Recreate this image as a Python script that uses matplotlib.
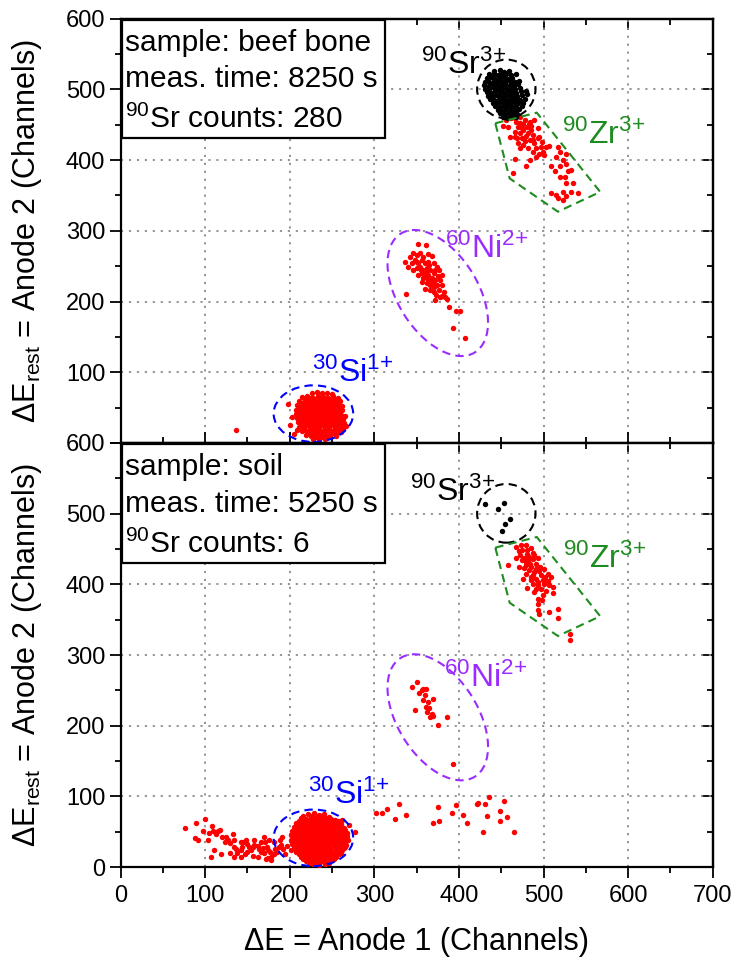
import numpy as np
import matplotlib
matplotlib.use("Agg")
import matplotlib.pyplot as plt
from matplotlib.patches import Ellipse, Polygon, Rectangle
from matplotlib.transforms import Affine2D
from matplotlib.ticker import MultipleLocator

plt.rcParams.update({
    "font.family": ["Liberation Sans", "DejaVu Sans"],
    "mathtext.fontset": "custom",
    "mathtext.rm": "Liberation Sans",
    "mathtext.it": "Liberation Sans:italic",
    "mathtext.bf": "Liberation Sans:bold",
})

# ---------------- data (channels) ----------------
# top panel: beef bone
sr_top = [(442,526),(448,527),(453,525),(459,526),
          (436,521),(441,522),(446,520),(451,521),(456,522),(461,520),(468,522),
          (433,516),(438,517),(443,515),(448,516),(453,517),(458,515),(463,516),
          (431,511),(436,510),(441,512),(446,511),(451,510),(456,512),(461,511),(466,510),(471,512),
          (430,506),(435,505),(440,507),(445,506),(450,505),(455,507),(460,506),(465,505),(470,507),
          (431,501),(436,500),(441,502),(446,501),(451,500),(456,502),(461,501),(466,500),(472,502),(479,497),
          (433,496),(438,495),(443,497),(448,496),(453,495),(458,497),(463,496),(468,495),(473,497),(480,494),
          (434,491),(439,490),(444,492),(449,491),(454,490),(459,492),(464,491),(469,490),(475,492),
          (437,486),(442,485),(447,487),(452,486),(457,485),(462,487),(467,486),(472,485),(478,487),
          (440,481),(445,480),(450,482),(455,481),(460,480),(465,482),(470,481),(476,480),
          (443,476),(448,475),(453,477),(458,476),(463,475),(468,477),(474,476),
          (446,471),(451,470),(456,472),(461,471),(466,470),(471,472),
          (449,466),(454,465),(459,467),(464,466),(469,465),
          (452,461),(457,460),(462,462),(467,461)]

zr_top = [(456,457),(462,459),(466,460),(472,461),(478,457),(484,454),(489,457),(452,448),
          (458,447),(460,433),(466,440),(470,447),(472,438),(474,431),(476,443),(480,447),
          (482,438),(484,428),(485,443),(487,435),(489,424),(491,417),(493,445),(495,433),
          (497,419),(499,412),(503,419),(506,420),(470,424),(476,421),(482,417),(487,412),
          (491,405),(484,400),(479,392),(466,402),(464,382),(517,419),(520,412),(515,405),
          (509,391),(513,384),(519,391),(523,400),(527,409),(526,395),(529,384),(533,386),
          (519,376),(525,376),(527,367),(535,367),(509,353),(515,351),(523,355),(527,349),
          (533,355),(541,354),(517,346),(523,344),(472,452),(476,451),(468,454),(485,448),
          (474,445),(479,434),(483,451),(488,429),(478,427),(472,417),(495,409),(498,426),
          (501,407),(466,433),(469,431),(493,431)]

ni_top = [(352,282),(361,280),(336,256),(342,263),(346,268),(350,266),(354,269),(358,263),
          (364,267),(368,264),(340,249),(344,254),(348,259),(352,255),(356,259),(360,254),
          (364,256),(370,254),(374,249),(346,244),(350,247),(354,249),(358,244),(362,247),
          (366,244),(370,240),(376,244),(380,237),(352,237),(356,240),(360,235),(364,237),
          (368,233),(372,230),(378,230),(356,228),(362,226),(366,228),(370,221),(374,223),
          (380,223),(360,218),(366,216),(370,214),(376,216),(382,214),(384,207),(378,206),
          (372,202),(380,208),(386,204),(337,210),(388,192),(397,187),(401,187),(393,163),
          (407,149),(350,256),(355,244),(361,242),(365,251),(372,244),(357,233),(363,230),
          (375,236),(369,226),(366,223),(373,209),(362,237)]

si_top = [(226,71),(232,72),(238,70),(244,71),(250,69),
          (215,65),(221,66),(227,64),(233,66),(239,65),(245,64),(251,66),(257,63),
          (211,59),(217,58),(223,60),(229,59),(235,58),(241,60),(247,59),(253,58),(259,60),
          (209,53),(215,52),(221,54),(227,53),(233,52),(239,54),(245,53),(251,52),(257,54),(262,52),
          (208,47),(214,46),(220,48),(226,47),(232,46),(238,48),(244,47),(250,46),(256,48),(262,46),
          (207,41),(213,40),(219,42),(225,41),(231,40),(237,42),(243,41),(249,40),(255,42),(261,40),(265,38),
          (209,35),(215,34),(221,36),(227,35),(233,34),(239,36),(245,35),(251,34),(257,36),(263,34),
          (210,29),(216,28),(222,30),(228,29),(234,28),(240,30),(246,29),(252,28),(258,30),(264,28),(266,24),
          (211,23),(217,22),(223,24),(229,23),(235,22),(241,24),(247,23),(253,22),(259,24),(263,20),
          (214,17),(220,16),(226,18),(232,17),(238,16),(244,18),(250,17),(256,16),(261,15),
          (219,11),(225,10),(231,12),(237,11),(243,10),(249,12),(255,10),
          (228,6),(235,5),(242,6),
          (137,19),(198,55),(200,25),(209,18),(203,37),(205,12)]

si_top_core = [(218,62),(224,63),(230,61),(236,62),(242,63),(248,61),(254,62),
               (214,56),(220,55),(226,57),(232,56),(238,55),(244,57),(250,56),(256,55),
               (212,50),(218,49),(224,51),(230,50),(236,49),(242,51),(248,50),(254,49),(259,50),
               (211,44),(217,43),(223,45),(229,44),(235,43),(241,45),(247,44),(253,43),(259,44),
               (212,38),(218,37),(224,39),(230,38),(236,37),(242,39),(248,38),(254,37),(260,38),
               (212,32),(218,31),(224,33),(230,32),(236,31),(242,33),(248,32),(254,31),(260,32),
               (213,26),(219,25),(225,27),(231,26),(237,25),(243,27),(249,26),(255,25),(261,26),
               (217,20),(223,19),(229,21),(235,20),(241,19),(247,21),(253,20),(258,19),
               (222,14),(228,13),(234,15),(240,14),(246,13),(252,14),
               (231,8),(238,8),(245,9)]

# bottom panel: soil
sr_bot = [(431,514),(453,515),(446,506),(460,492),(454,486),(451,475)]

zr_bot = [(468,453),(473,455),(479,456),(485,451),(471,447),(475,449),(481,448),(487,445),
          (468,437),(472,441),(477,438),(483,439),(488,436),(493,438),(458,428),(475,434),
          (479,431),(484,429),(491,429),(496,425),(471,425),(477,423),(483,420),(489,417),
          (495,419),(501,422),(505,415),(509,410),(485,411),(491,408),(499,406),(476,407),
          (487,401),(494,399),(501,400),(507,399),(511,396),(481,395),(491,393),(497,394),
          (503,391),(511,388),(489,389),(499,385),(493,379),(498,378),(494,372),(493,364),
          (495,358),(507,361),(517,365),(517,352),(531,330),(531,322),(483,436),(480,443),
          (489,442),(479,427),(485,424),(491,422),(488,413),(497,413),(502,410),(493,403),
          (505,405),(479,415),(485,406)]

ni_bot = [(350,262),(345,255),(353,246),(358,252),(361,252),(358,237),(364,234),(369,238),
          (348,223),(361,227),(365,225),(362,220),(368,217),(366,213),(369,214),(386,213),
          (375,201),(393,146),(356,251),(360,244)]

si_bot = [(222,75),(229,76),(235,74),(241,75),
          (213,69),(219,68),(225,70),(231,69),(237,68),(243,70),(249,68),(254,67),
          (208,63),(214,62),(220,64),(226,63),(232,62),(238,64),(244,63),(250,62),(256,63),(261,61),
          (205,57),(211,56),(217,58),(223,57),(229,56),(235,58),(241,57),(247,56),(253,58),(259,56),(264,55),
          (203,51),(209,50),(215,52),(221,51),(227,50),(233,52),(239,51),(245,50),(251,52),(257,50),(263,51),(268,49),
          (202,45),(208,44),(214,46),(220,45),(226,44),(232,46),(238,45),(244,44),(250,46),(256,44),(262,45),(268,44),
          (202,39),(208,38),(214,40),(220,39),(226,38),(232,40),(238,39),(244,38),(250,40),(256,38),(262,39),(269,38),
          (203,33),(209,32),(215,34),(221,33),(227,32),(233,34),(239,33),(245,32),(251,34),(257,32),(263,33),(267,31),
          (205,27),(211,26),(217,28),(223,27),(229,26),(235,28),(241,27),(247,26),(253,28),(259,26),(264,27),
          (208,21),(214,20),(220,22),(226,21),(232,20),(238,22),(244,21),(250,20),(256,22),(261,20),
          (213,15),(219,14),(225,16),(231,15),(237,14),(243,16),(249,15),(255,14),
          (219,9),(225,8),(231,10),(237,9),(243,8),(249,10),
          (228,4),(235,3),(242,4),
          (277,50),(270,60),(262,67)]

si_bot_core = [(216,72),(226,73),(232,71),(238,72),(246,71),
               (211,66),(217,65),(223,67),(229,66),(235,65),(241,67),(247,66),(252,65),(257,66),
               (207,60),(213,59),(219,61),(225,60),(231,59),(237,61),(243,60),(249,59),(255,60),(260,59),
               (206,54),(212,53),(218,55),(224,54),(230,53),(236,55),(242,54),(248,53),(254,55),(260,54),(265,53),
               (205,48),(211,47),(217,49),(223,48),(229,47),(235,49),(241,48),(247,47),(253,49),(259,48),(265,47),
               (205,42),(211,41),(217,43),(223,42),(229,41),(235,43),(241,42),(247,41),(253,43),(259,42),(265,41),
               (205,36),(211,35),(217,37),(223,36),(229,35),(235,37),(241,36),(247,35),(253,37),(259,36),(265,35),
               (206,30),(212,29),(218,31),(224,30),(230,29),(236,31),(242,30),(248,29),(254,31),(260,30),(265,29),
               (208,24),(214,23),(220,25),(226,24),(232,23),(238,25),(244,24),(250,23),(256,25),(262,24),
               (211,18),(217,17),(223,19),(229,18),(235,17),(241,19),(247,18),(253,17),(258,18),
               (216,12),(222,11),(228,13),(234,12),(240,11),(246,13),(252,12),
               (223,6),(232,6),(240,7),(246,6)]

tail_bot = [(76,55),(89,63),(88,41),(91,38),(97,51),(100,68),(103,39),(105,48),(109,51),
            (108,58),(113,47),(115,51),(118,53),(120,43),(123,36),(125,43),(127,39),(129,34),
            (133,47),(134,28),(136,26),(138,20),(142,24),(144,28),(145,35),(148,39),(150,33),
            (152,28),(154,25),(156,28),(158,32),(162,30),(164,26),(166,22),(168,27),(171,35),
            (173,29),(174,24),(177,21),(178,15),(181,19),(183,26),(185,22),(187,28),(190,32),
            (192,26),(195,19),(107,15),(110,24),(119,19),(129,20),(134,15),(142,15),(150,21),
            (156,16),(162,14),(170,20),(172,11),(178,10),(134,39),(142,36),(158,39),(166,35),
            (176,39),(181,36),(189,38),(197,30),(201,25),(170,43),(191,43),(174,13),(147,18)]

scatter_bot = [(302,76),(309,76),(315,82),(325,68),(329,90),(338,74),(369,63),(375,85),
               (377,65),(392,76),(396,88),(405,74),(409,62),(421,90),(422,91),(435,99),
               (431,90),(433,72),(449,79),(453,94),(457,71),(465,50),(429,50),(449,66)]

zr_gate = [(443, 452), (492, 467), (567, 355), (517, 327), (460, 374)]

panels = [
    dict(sample="beef bone", time="8250", counts="280",
         red=[zr_top, ni_top, si_top, si_top_core], black=sr_top,
         sr_lab=(355, 522), zr_lab=(522, 423), ni_lab=(383, 261), si_lab=(226, 86)),
    dict(sample="soil", time="5250", counts="6",
         red=[zr_bot, ni_bot, si_bot, si_bot_core, tail_bot, scatter_bot], black=sr_bot,
         sr_lab=(342, 518), zr_lab=(523, 423), ni_lab=(382, 255), si_lab=(222, 89)),
]

# ---------------- figure ----------------
W, H = 7.5, 9.63
fig = plt.figure(figsize=(W, H), dpi=100)
left, width = 0.1607, 0.7896
ax_top = fig.add_axes([left, 0.5400, width, 0.4407])
ax_bot = fig.add_axes([left, 0.0995, width, 0.4405])
axes = [ax_top, ax_bot]

RED = "#ff0000"
GREEN = "#1e8c1e"
PURPLE = "#9a2cff"
BLUE = "#0000ff"
FS_BIG = 21.5
FS_AX = 22
FS_LAB = 23
FS_TICK = 17

for i, (ax, p) in enumerate(zip(axes, panels)):
    ax.set_xlim(0, 700)
    ax.set_ylim(0, 600)
    ax.xaxis.set_major_locator(MultipleLocator(100))
    ax.xaxis.set_minor_locator(MultipleLocator(50))
    ax.yaxis.set_major_locator(MultipleLocator(100))
    ax.yaxis.set_minor_locator(MultipleLocator(50))
    ax.grid(True, which="major", color="#8c8c8c", linestyle=(0, (1.2, 3.2)), linewidth=1.3)
    ax.set_axisbelow(True)
    for s in ax.spines.values():
        s.set_linewidth(1.6)
    ax.tick_params(axis="y", which="major", direction="out", length=8, width=1.3,
                   labelsize=FS_TICK, pad=3)
    ax.tick_params(axis="y", which="minor", direction="out", length=4.5, width=1.3)
    ax.tick_params(axis="x", which="major", direction="out" if i == 1 else "in",
                   length=8, width=1.3, labelsize=FS_TICK, pad=5)
    ax.tick_params(axis="x", which="minor", direction="out" if i == 1 else "in",
                   length=4.5, width=1.3)
    # mirrored ticks (inward) on top and right
    sx = ax.secondary_xaxis("top")
    sx.xaxis.set_major_locator(MultipleLocator(100))
    sx.xaxis.set_minor_locator(MultipleLocator(50))
    sx.tick_params(which="major", direction="in", length=8, width=1.3, labeltop=False)
    sx.tick_params(which="minor", direction="in", length=4.5, width=1.3)
    sy = ax.secondary_yaxis("right")
    sy.yaxis.set_major_locator(MultipleLocator(100))
    sy.yaxis.set_minor_locator(MultipleLocator(50))
    sy.tick_params(which="major", direction="in", length=8, width=1.3, labelright=False)
    sy.tick_params(which="minor", direction="in", length=4.5, width=1.3)
    for s in list(sx.spines.values()) + list(sy.spines.values()):
        s.set_linewidth(1.6)

    ax.set_ylabel(r"ΔE$_\mathregular{rest}$ = Anode 2 (Channels)", fontsize=FS_AX)
    ax.yaxis.set_label_coords(-0.13, 0.5)

    # data points
    for grp in p["red"]:
        arr = np.array(grp, dtype=float)
        ax.plot(arr[:, 0], arr[:, 1], "o", ms=3.9, color=RED, mec="none", zorder=3)
    arr = np.array(p["black"], dtype=float)
    ax.plot(arr[:, 0], arr[:, 1], "o", ms=3.9, color="black", mec="none", zorder=4)

    # gates
    ax.add_patch(Ellipse((456, 500.5), 69, 83, fill=False, ec="black", lw=1.5,
                         ls=(0, (4, 2.5)), zorder=5))
    ax.add_patch(Ellipse((228, 41.5), 94, 80, fill=False, ec=BLUE, lw=1.5,
                         ls=(0, (4, 2.5)), zorder=5))
    ax.add_patch(Polygon(zr_gate, closed=True, fill=False, ec=GREEN, lw=1.5,
                         ls=(0, (4, 2.5)), zorder=5))
    # Ni ellipse defined in screen proportions
    kx = W * 100 * width / 700.0
    ky = H * 100 * ax.get_position().height / 600.0
    e = Ellipse((0, 0), 2 * 70, 2 * 40, angle=122, fill=False, ec=PURPLE, lw=1.5,
                ls=(0, (4, 2.5)), zorder=5)
    e.set_transform(Affine2D().scale(1 / kx, 1 / ky).translate(375, 212) + ax.transData)
    ax.add_patch(e)

    # species labels
    ax.text(*p["sr_lab"], r"$\mathregular{^{90}Sr^{3\!+}}$", color="black", fontsize=FS_LAB,
            ha="left", va="baseline", zorder=6)
    ax.text(*p["zr_lab"], r"$\mathregular{^{90}Zr^{3\!+}}$", color=GREEN, fontsize=FS_LAB,
            ha="left", va="baseline", zorder=6)
    ax.text(*p["ni_lab"], r"$\mathregular{^{60}Ni^{2\!+}}$", color=PURPLE, fontsize=FS_LAB,
            ha="left", va="baseline", zorder=6)
    ax.text(*p["si_lab"], r"$\mathregular{^{30}Si^{1\!+}}$", color=BLUE, fontsize=FS_LAB,
            ha="left", va="baseline", zorder=6)

    # info box
    ax.add_patch(Rectangle((1.5, 430.5), 311, 168, fill=True, fc="white", ec="black",
                           lw=1.6, zorder=6))
    ax.text(5, 554.6, "sample: " + p["sample"], fontsize=FS_BIG, va="baseline", zorder=7)
    ax.text(5, 502.8, "meas. time: " + p["time"] + " s", fontsize=FS_BIG, va="baseline", zorder=7)
    ax.text(5, 444.8, r"$\mathregular{^{90}}$Sr counts: " + p["counts"], fontsize=FS_BIG,
            va="baseline", zorder=7)

ax_top.set_yticks(range(0, 601, 100))
ax_top.set_yticklabels([""] + [str(v) for v in range(100, 601, 100)])
ax_top.tick_params(axis="x", labelbottom=False)
ax_bot.set_xlabel("ΔE = Anode 1 (Channels)", fontsize=FS_AX, labelpad=14)

fig.savefig("out.png", dpi=100)
